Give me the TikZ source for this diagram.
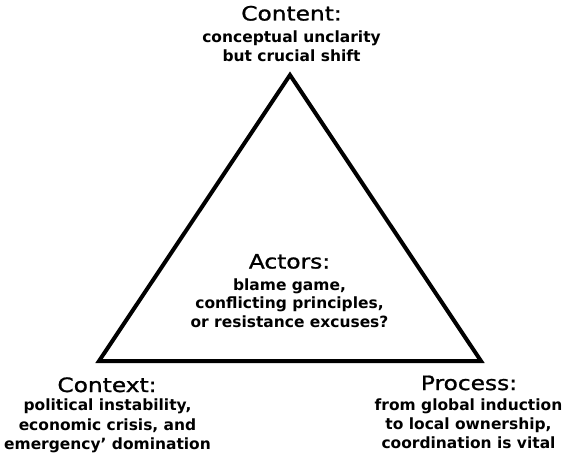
\documentclass[tikz,border=0pt]{standalone}
\usepackage{fontspec}
\setmainfont{DejaVu Sans}
\newfontfamily\titlefont[FakeStretch=1.18,FakeBold=1.2]{DejaVu Sans}
\begin{document}
\begin{tikzpicture}[x=0.75pt,y=-0.75pt,
  ttl/.style={anchor=base, inner sep=0pt, font=\titlefont\fontsize{14.8}{17}\selectfont},
  bdy/.style={anchor=base, inner sep=0pt, font=\fontsize{11.6}{#1}\selectfont\bfseries},
  bdy/.default=14,
  tri/.style={line width=3pt, line join=miter}]
\useasboundingbox (0,0) rectangle (567,460);
\coordinate (top) at (290,75);
\coordinate (bl) at (99,361);
\coordinate (br) at (481,361);
\draw[tri] (top) -- (br) -- (bl) -- cycle;
% Content
\node[ttl] (contentT) at (291.5,20.5) {Content:};
\node[bdy] (contentB) at (291.5,42.7) {\begin{tabular}[t]{@{}c@{}}conceptual unclarity\\but crucial shift\end{tabular}};
% Actors
\node[ttl] (actorsT) at (289.5,268.5) {Actors:};
\node[bdy] (actorsB) at (289.5,290) {\begin{tabular}[t]{@{}c@{}}blame game,\\conflicting principles,\\or resistance excuses?\end{tabular}};
% Context
\node[ttl] (contextT) at (107,392) {Context:};
\node[bdy=14.7] (contextB) at (107.5,410.7) {\begin{tabular}[t]{@{}c@{}}political instability,\\economic crisis, and\\emergency’ domination\end{tabular}};
% Process
\node[ttl] (processT) at (469,390) {Process:};
\node[bdy] (processB) at (468.5,410.7) {\begin{tabular}[t]{@{}c@{}}from global induction\\to local ownership,\\coordination is vital\end{tabular}};
\end{tikzpicture}
\end{document}
